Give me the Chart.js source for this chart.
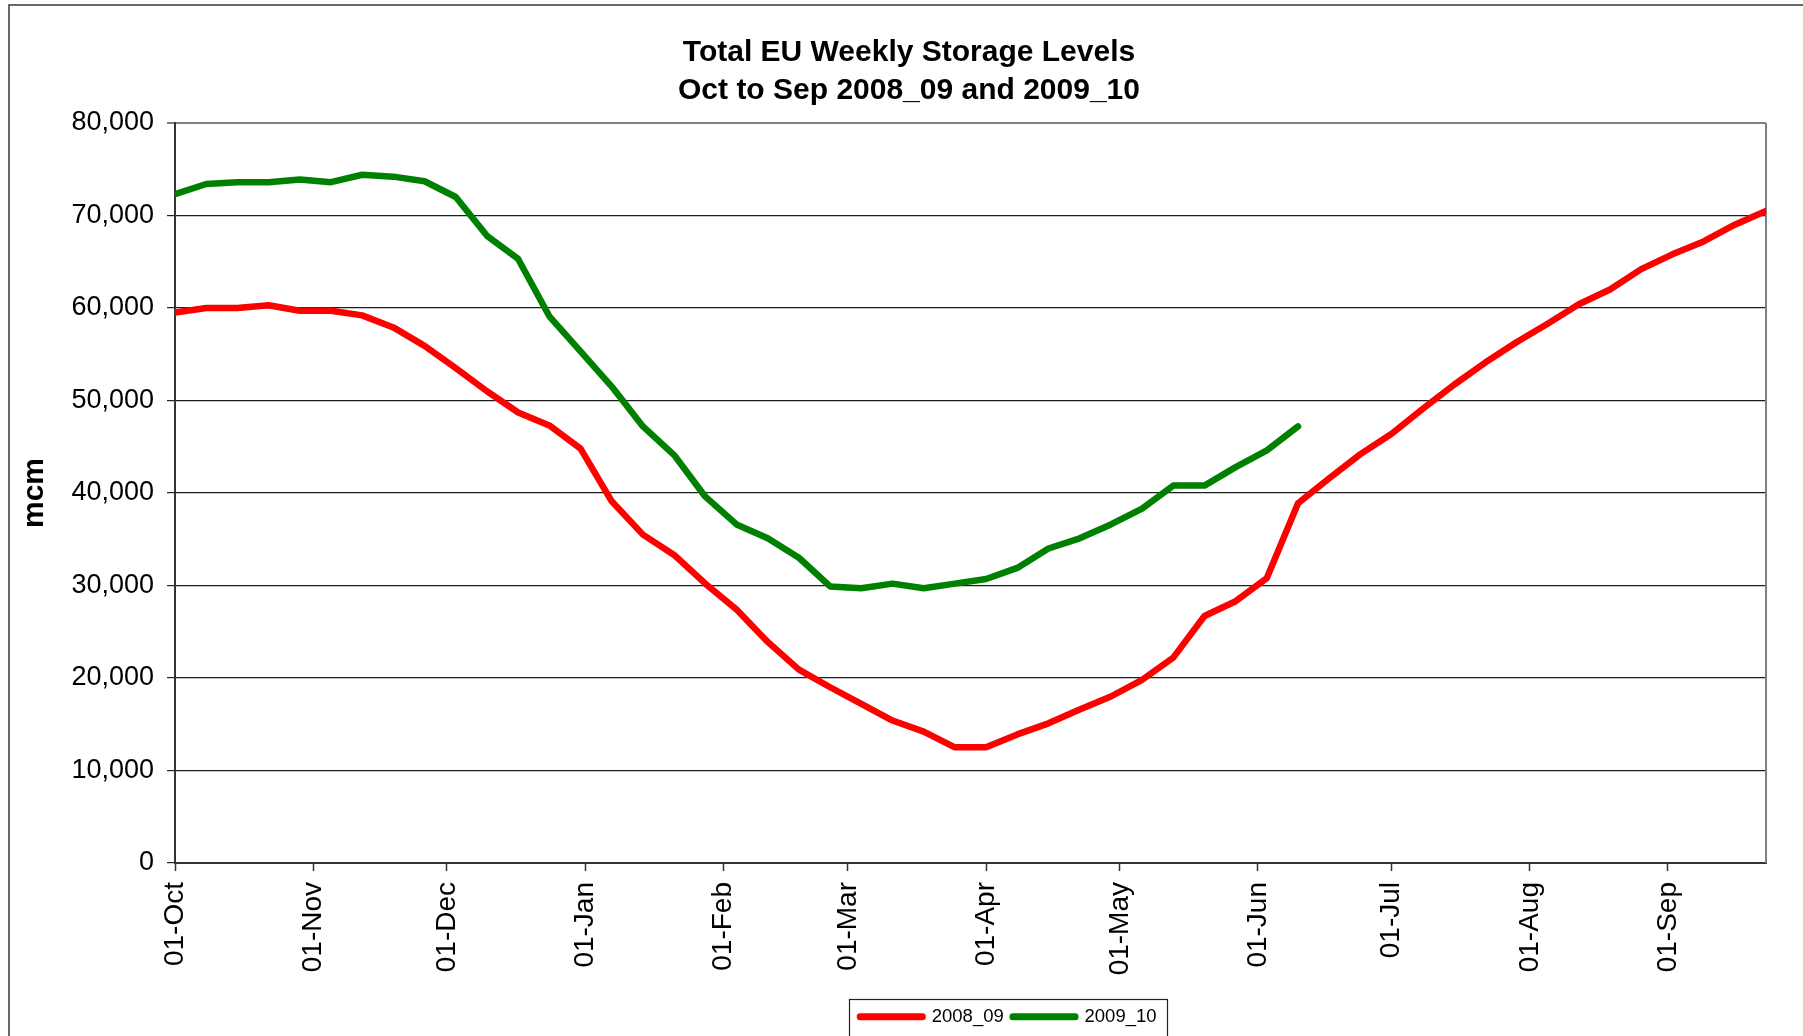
<!DOCTYPE html>
<html>
<head>
<meta charset="utf-8">
<title>Total EU Weekly Storage Levels</title>
<script src="https://cdn.jsdelivr.net/npm/chart.js@4.4.1/dist/chart.umd.min.js"></script>
<style>
  html, body { margin: 0; padding: 0; background: #ffffff; overflow: hidden; }
  #wrap { width: 1803px; height: 1036px; position: relative; }
</style>
</head>
<body>
<div id="wrap"><canvas id="c" width="1803" height="1036"></canvas></div>
<script>
// ---- Data ----
// Day offsets (days after 01-Oct) of each weekly reading
const weekDays = [0, 7, 14, 21, 28, 35, 42, 49, 56, 63, 70, 77, 84, 91, 98, 105, 112, 119, 126, 133,
  140, 147, 154, 161, 168, 175, 182, 189, 196, 203, 210, 217, 224, 231, 238, 245, 252, 259, 266, 273,
  280, 287, 294, 301, 308, 315, 322, 329, 336, 343, 350, 357];

// Total EU storage, mcm
const storage2008_09 = [59500, 60000, 60000, 60300, 59700, 59700, 59200, 57900, 55900, 53500,
  51000, 48700, 47300, 44800, 39100, 35500, 33300, 30200, 27400, 23900,
  20900, 19000, 17200, 15400, 14200, 12500, 12500, 13900, 15100, 16600,
  18000, 19800, 22200, 26700, 28300, 30800, 38900, 41600, 44200, 46400,
  49100, 51700, 54100, 56300, 58300, 60400, 62000, 64200, 65800, 67200,
  69000, 70500];

const storage2009_10 = [72300, 73400, 73600, 73600, 73900, 73600, 74400, 74200, 73700, 72000,
  67800, 65300, 59100, 55300, 51500, 47200, 44100, 39600, 36600, 35100,
  33000, 29900, 29700, 30200, 29700, 30200, 30700, 31900, 34000, 35100,
  36600, 38300, 40800, 40800, 42800, 44600, 47200];

const seriesNames = ['2008_09', '2009_10'];

// X-axis tick labels (first day of each month) and their day offsets
const monthTickDays = [0, 31, 61, 92, 123, 151, 182, 212, 243, 273, 304, 335];
const monthTickLabels = ['01-Oct', '01-Nov', '01-Dec', '01-Jan', '01-Feb', '01-Mar',
  '01-Apr', '01-May', '01-Jun', '01-Jul', '01-Aug', '01-Sep'];

const titleLines = ['Total EU Weekly Storage Levels', 'Oct to Sep 2008_09 and 2009_10'];
const yAxisTitle = 'mcm';

// ---- Chart ----
const FONT = "'Liberation Sans', Arial, Helvetica, sans-serif";

const toPoints = (vals) => vals.map((v, i) => ({ x: weekDays[i], y: v }));

const decorPlugin = {
  id: 'decor',
  beforeDraw(chart) {
    const ctx = chart.ctx;
    ctx.save();
    ctx.fillStyle = '#ffffff';
    ctx.fillRect(0, 0, chart.width, chart.height);
    // outer frame (only top and left visible)
    ctx.strokeStyle = '#3a3a3a';
    ctx.lineWidth = 1.5;
    ctx.strokeRect(9, 5, 2000, 1200);
    ctx.restore();
    // place legend and title like the original
    if (chart.legend) { chart.legend.left = 851; }
    if (chart.titleBlock) { chart.titleBlock.left = 15; chart.titleBlock.right = 1803; }
  },
  beforeDatasetsDraw(chart) {
    const { ctx, chartArea } = chart;
    ctx.save();
    ctx.strokeStyle = '#808080';
    ctx.lineWidth = 2;
    ctx.beginPath();
    ctx.moveTo(chartArea.right, chartArea.top);
    ctx.lineTo(chartArea.right, chartArea.bottom);
    ctx.stroke();
    ctx.restore();
  },
  afterDraw(chart) {
    const ctx = chart.ctx;
    const lg = chart.legend;
    if (!lg || !lg.legendHitBoxes || !lg.legendHitBoxes.length) return;
    ctx.save();
    ctx.strokeStyle = '#222222';
    ctx.lineWidth = 1.2;
    ctx.strokeRect(849.5, 999.5, 318, 80);
    ctx.restore();
  }
};

new Chart(document.getElementById('c'), {
  type: 'line',
  data: {
    datasets: [
      {
        label: seriesNames[0],
        data: toPoints(storage2008_09),
        borderColor: '#ff0000',
        backgroundColor: '#ff0000',
        borderWidth: 6.5,
        borderJoinStyle: 'round',
        borderCapStyle: 'round',
        pointRadius: 0,
        tension: 0
      },
      {
        label: seriesNames[1],
        data: toPoints(storage2009_10),
        borderColor: '#008000',
        backgroundColor: '#008000',
        borderWidth: 6.5,
        borderJoinStyle: 'round',
        borderCapStyle: 'round',
        pointRadius: 0,
        tension: 0
      }
    ]
  },
  options: {
    responsive: false,
    animation: false,
    devicePixelRatio: 1,
    layout: { padding: { left: 0, right: 37, top: 0, bottom: 0 } },
    scales: {
      x: {
        type: 'linear',
        min: 0,
        max: 357,
        afterBuildTicks: (axis) => { axis.ticks = monthTickDays.map(v => ({ value: v })); },
        afterFit: (axis) => { axis.height = 135.5; },
        ticks: {
          autoSkip: false,
          minRotation: 90,
          maxRotation: 90,
          padding: 11,
          color: '#000000',
          font: { family: FONT, size: 28 },
          callback: (value) => monthTickLabels[monthTickDays.indexOf(value)]
        },
        grid: {
          drawOnChartArea: false,
          drawTicks: true,
          tickLength: 8,
          tickColor: '#333333',
          tickWidth: 1.5
        },
        border: { display: true, color: '#333333', width: 2 }
      },
      y: {
        min: 0,
        max: 80000,
        afterFit: (axis) => { axis.width = 175; },
        ticks: {
          stepSize: 10000,
          padding: 13,
          color: '#000000',
          font: { family: FONT, size: 27 },
          callback: (v) => Number(v).toLocaleString('en-US')
        },
        grid: {
          drawTicks: true,
          tickLength: 8,
          tickColor: '#222222',
          tickWidth: 1.2,
          color: (c) => (c.tick && c.tick.value === 80000) ? '#808080' : '#1e1e1e',
          lineWidth: (c) => (c.tick && c.tick.value === 80000) ? 2 : 1.2
        },
        border: { display: true, color: '#333333', width: 2 },
        title: {
          display: true,
          text: yAxisTitle,
          color: '#000000',
          font: { family: FONT, size: 30, weight: 'bold' },
          padding: { top: 16.5, bottom: 4 }
        }
      }
    },
    plugins: {
      title: {
        display: true,
        text: titleLines,
        color: '#000000',
        font: { family: FONT, size: 30, weight: 'bold', lineHeight: 1.283 },
        padding: { top: 33, bottom: 13 }
      },
      legend: {
        display: true,
        position: 'bottom',
        align: 'start',
        labels: {
          color: '#000000',
          font: { family: FONT, size: 18.5 },
          boxWidth: 62.5,
          boxHeight: 0.5,
          padding: 9
        }
      },
      tooltip: { enabled: false }
    }
  },
  plugins: [decorPlugin]
});
</script>
</body>
</html>
